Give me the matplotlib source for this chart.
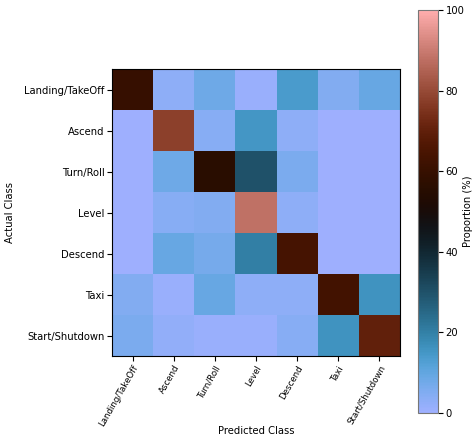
import numpy as np
import matplotlib
matplotlib.use('Agg')
import matplotlib.pyplot as plt

classes = ['Landing/TakeOff', 'Ascend', 'Turn/Roll', 'Level', 'Descend', 'Taxi', 'Start/Shutdown']

# row-normalised confusion matrix, in percent (rows = actual, cols = predicted)
row_landing = [60, 3, 8, 1, 14, 5, 9]
row_ascend = [0, 78, 4, 15, 3, 0, 0]
row_turn = [0, 8, 56, 30, 6, 0, 0]
row_level = [0, 4, 5, 88, 3, 0, 0]
row_descend = [0, 9, 7, 20, 64, 0, 0]
row_taxi = [5, 1, 9, 3, 3, 63, 16]
row_start = [6, 2, 1, 1, 4, 16, 70]

cm = np.array([row_landing, row_ascend, row_turn, row_level,
               row_descend, row_taxi, row_start])

fs = 7.2
fig = plt.figure(figsize=(4.76, 4.44), dpi=100)
ax = fig.add_axes([112 / 476, 1 - 356 / 444, 288 / 476, 287 / 444])
cax = fig.add_axes([418 / 476, 1 - 413 / 444, 20 / 476, 403 / 444])

im = ax.imshow(cm, cmap='berlin', vmin=0, vmax=100, aspect='auto')

ax.set_xticks(range(len(classes)))
ax.set_yticks(range(len(classes)))
ax.set_xticklabels(classes, rotation=60, ha='right', rotation_mode='anchor', fontsize=6.2)
ax.set_yticklabels(classes, fontsize=fs)
ax.tick_params(axis='y', pad=2)
ax.tick_params(axis='x', pad=2)
ax.set_xlabel('Predicted Class', fontsize=fs)
ax.set_ylabel('Actual Class', fontsize=fs)
ax.yaxis.set_label_coords(-0.337, 0.5)
ax.xaxis.set_label_coords(0.5, -0.245)

cb = fig.colorbar(im, cax=cax)
cb.set_label('Proportion (%)', fontsize=fs, labelpad=-1)
cb.ax.tick_params(labelsize=fs, pad=2)
cb.outline.set_edgecolor('#777777')

plt.savefig('out.png', dpi=100)
